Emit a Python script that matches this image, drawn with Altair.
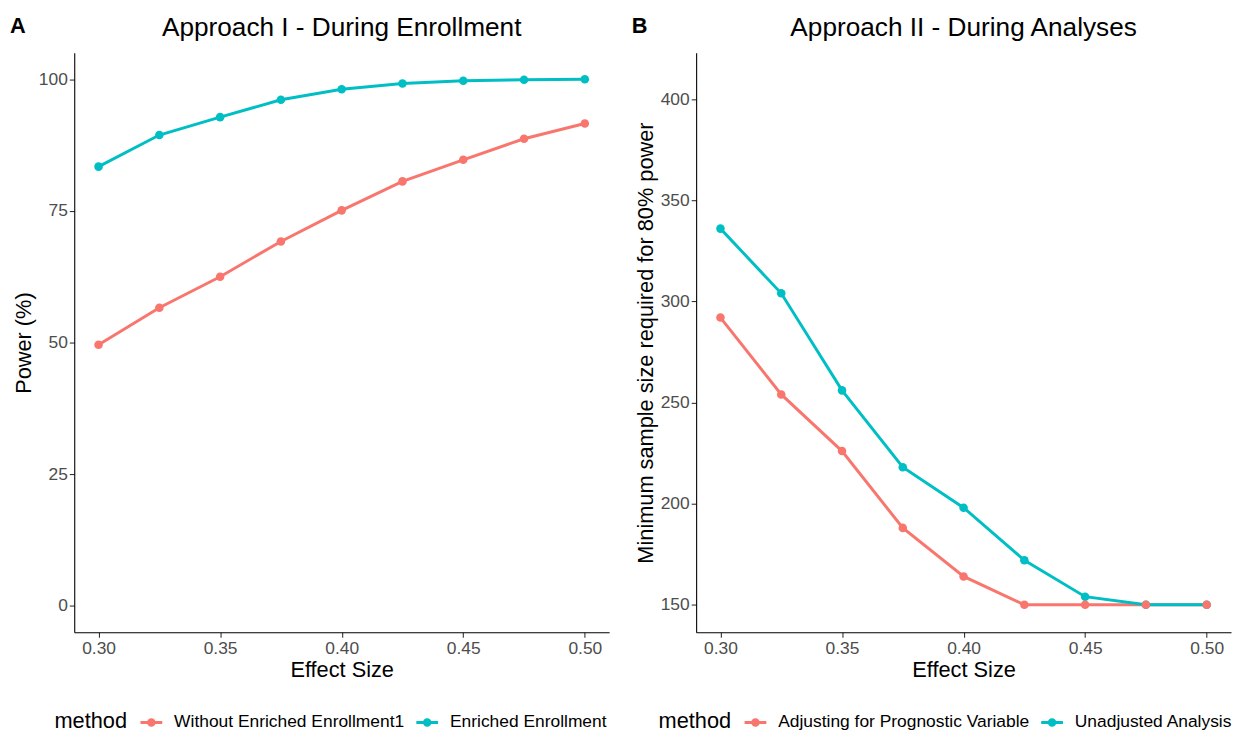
import altair as alt
import pandas as pd

# ---- data ----
effect_size = [0.30, 0.325, 0.35, 0.375, 0.40, 0.425, 0.45, 0.475, 0.50]

power_without_enriched = [49.6, 56.6, 62.5, 69.2, 75.1, 80.6, 84.7, 88.7, 91.6]
power_enriched = [83.4, 89.4, 92.8, 96.1, 98.1, 99.2, 99.7, 99.9, 100.0]

n_adjusted = [292, 254, 226, 188, 164, 150, 150, 150, 150]
n_unadjusted = [336, 304, 256, 218, 198, 172, 154, 150, 150]

methods_a = ["Without Enriched Enrollment1", "Enriched Enrollment"]
methods_b = ["Adjusting for Prognostic Variable", "Unadjusted Analysis"]
palette = ["#F8766D", "#00BFC4"]

x_ticks = [0.30, 0.35, 0.40, 0.45, 0.50]
y_ticks_a = [0, 25, 50, 75, 100]
y_ticks_b = [150, 200, 250, 300, 350, 400]

FONT = "Liberation Sans"
W = 541
H = 586

# legend glyph: line with a dot (ggplot style)
SYM = ("M-1,-0.14L1,-0.14L1,0.14L-1,0.14Z "
       "M-0.39,0A0.39,0.39 0 1,1 0.39,0A0.39,0.39 0 1,1 -0.39,0Z")


def make_df(vals_first, vals_second, methods):
    # teal series listed first so red points are drawn on top (as in reference)
    return pd.DataFrame({
        "effect": effect_size + effect_size,
        "value": vals_second + vals_first,
        "method": [methods[1]] * len(effect_size) + [methods[0]] * len(effect_size),
    })


def panel(df, methods, ytitle, ydomain, yticks, title, letter, legend_x):
    xenc = alt.X("effect:Q",
                 scale=alt.Scale(domain=[0.29, 0.51], nice=False, zero=False),
                 axis=alt.Axis(values=x_ticks, format=".2f", title="Effect Size"))
    yenc = alt.Y("value:Q",
                 scale=alt.Scale(domain=ydomain, nice=False, zero=False),
                 axis=alt.Axis(values=yticks, title=ytitle))
    cscale = alt.Scale(domain=methods, range=palette)
    lines = [
        alt.Chart(df).transform_filter(alt.datum.method == m)
        .mark_line(color=c, strokeWidth=3).encode(x=xenc, y=yenc)
        for m, c in zip(methods, palette)
    ]
    points = alt.Chart(df).mark_circle(size=75, opacity=1).encode(
        x=xenc, y=yenc,
        color=alt.Color("method:N", scale=cscale, sort=methods,
                        legend=alt.Legend(orient="none", legendX=legend_x, legendY=666,
                                          direction="horizontal", titleOrient="left",
                                          title="method")),
    )
    lab = alt.Chart(pd.DataFrame({"t": [letter]})).mark_text(
        font=FONT, fontSize=22, fontWeight="bold", align="left",
        baseline="alphabetic", color="black",
    ).encode(text="t:N", x=alt.value(-65), y=alt.value(-20))
    ttl = alt.Chart(pd.DataFrame({"t": [title]})).mark_text(
        font=FONT, fontSize=26.5, fontWeight="normal", align="center",
        baseline="alphabetic", color="black",
    ).encode(text="t:N", x=alt.value(W / 2), y=alt.value(-17))
    return alt.layer(*lines, points, lab, ttl).properties(width=W, height=H)


left = panel(make_df(power_without_enriched, power_enriched, methods_a), methods_a,
             "Power (%)", [-5, 105], y_ticks_a, "Approach I - During Enrollment", "A", -20)
right = panel(make_df(n_adjusted, n_unadjusted, methods_b), methods_b,
              "Minimum sample size required for 80% power", [136.4, 422.9], y_ticks_b,
              "Approach II - During Analyses", "B", -38)

chart = alt.hconcat(left, right, spacing=23).resolve_scale(
    color="independent"
).resolve_legend(color="independent").properties(
    padding={"left": 2, "top": 3, "right": 0, "bottom": 40}
).configure_view(stroke=None).configure_axis(
    grid=False, domainColor="black", domainWidth=1.1, tickColor="#333333",
    tickSize=5, tickWidth=1.1, labelFont=FONT, labelFontSize=17.6,
    labelColor="#4D4D4D", labelPadding=2, titleFont=FONT, titleFontSize=22,
    titleColor="black", titleFontWeight="normal", titlePadding=3,
).configure_legend(
    titleFont=FONT, titleFontSize=22, titleFontWeight="normal", titleColor="black",
    labelFont=FONT, labelFontSize=17.6, labelColor="black", labelLimit=0,
    symbolType=SYM, symbolSize=484, symbolStrokeWidth=0, symbolOpacity=1,
    labelOffset=12, columnPadding=12, titlePadding=13, padding=0,
)

chart.save("out.html", embed_options={"renderer": "svg", "actions": False})
